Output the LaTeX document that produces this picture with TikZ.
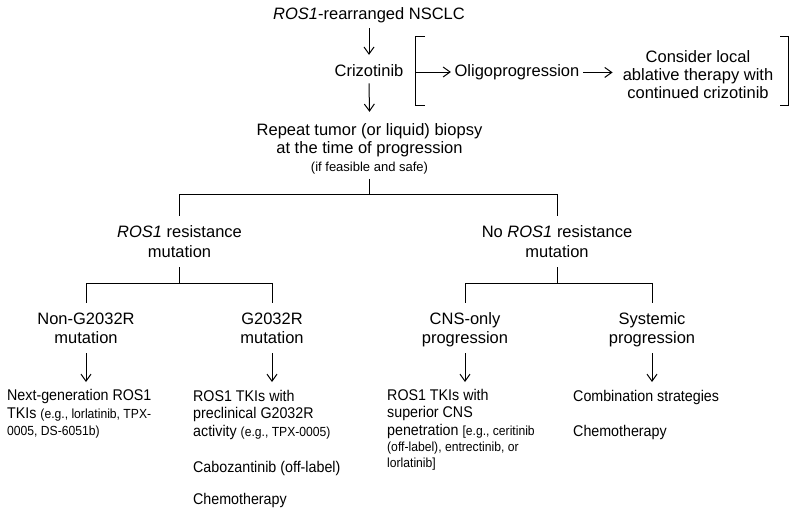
\documentclass[tikz,border=0pt]{standalone}
\usepackage{fontspec}
\setmainfont{Liberation Sans}
\newfontfamily\narrowfont[FakeStretch=0.92]{Liberation Sans}
\usetikzlibrary{arrows.meta}
\newcommand\smtxt[1]{{\fontsize{13}{15}\selectfont #1}}
\newcommand\smb[1]{{\fontsize{13.2}{14}\selectfont #1}}
\begin{document}
\begin{tikzpicture}[x=1pt,y=-1pt,
  main/.style={font=\fontsize{16.5}{18.5}\selectfont, inner sep=0pt, anchor=base, align=center},
  low/.style={font=\narrowfont\fontsize{15.5}{17.5}\selectfont, inner sep=0pt, anchor=base west, align=left},
  ln/.style={line width=1pt, black},
  arr/.style={line width=1pt, black, -{Straight Barb[length=7pt,width=10pt]}}
]
\useasboundingbox (0,0) rectangle (800,514);

% top (anchor base = baseline of the last line)
\node[main] (A) at (369,19) {\textit{ROS1}-rearranged NSCLC};
\node[main] (B) at (369,76) {Crizotinib};
\node[main] (C) at (369.5,171) {Repeat tumor (or liquid) biopsy\\at the time of progression\\[-1pt]\smtxt{(if feasible and safe)}};
\node[main] (O) at (517,76.7) {Oligoprogression};
\node[main] (K) at (698,98.3) {Consider local\\[-0.7pt]ablative therapy with\\[-0.7pt]continued crizotinib};

\draw[arr] ([yshift=-5.5pt]A.south) -- ([yshift=9pt]B.north);
\draw[arr] ([yshift=-7pt]B.south) -- ([yshift=11pt]C.north);

% bracket
\coordinate (bt) at (415,36);
\coordinate (bb) at (415,105);
\coordinate (bm) at (416,72);
\coordinate (rt) at (788,36);
\coordinate (rb) at (788,105);
\draw[ln] ([xshift=10pt]bt) -- (bt) -- (bb) -- ([xshift=10pt]bb);
\draw[ln] ([xshift=-8pt]rt) -- (rt) -- (rb) -- ([xshift=-8pt]rb);
\draw[arr] (bm) -- ([xshift=-3.5pt]bm -| O.west);
\draw[arr] ([xshift=3.5pt]O.east) -- ([xshift=-10pt]O.east -| K.west);

% level 2
\node[main] (R1) at (179.5,257) {\textit{ROS1} resistance\\[1.5pt]mutation};
\node[main] (R2) at (557,257) {No \textit{ROS1} resistance\\[1.5pt]mutation};
\coordinate (j1) at (369.5,194);
\draw[ln] ([yshift=-5pt]C.south) -- (j1);
\draw[ln] (j1) -| ([yshift=9pt]R1.north);
\draw[ln] (j1) -| ([yshift=9pt]R2.north);

% level 3
\node[main] (L1) at (86,343) {Non-G2032R\\[0.5pt]mutation};
\node[main] (L2) at (272,343) {G2032R\\[0.5pt]mutation};
\node[main] (L3) at (465,343) {CNS-only\\[0.5pt]progression};
\node[main] (L4) at (652,343) {Systemic\\[0.5pt]progression};
\coordinate (j2) at (179.5,283);
\coordinate (j3) at (557,283);
\draw[ln] ([yshift=-10pt]R1.south) -- (j2);
\draw[ln] ([yshift=-10pt]R2.south) -- (j3);
\draw[ln] (j2) -| ([yshift=9pt]L1.north);
\draw[ln] (j2) -| ([yshift=9pt]L2.north);
\draw[ln] (j3) -| ([yshift=9pt]L3.north);
\draw[ln] (j3) -| ([yshift=9pt]L4.north);

% bottom
\node[low] (D1) at (7,435.7) {Next-generation ROS1\\TKIs \smb{(e.g., lorlatinib, TPX-}\\\smb{0005, DS-6051b)}};
\node[low] (D2) at (193,504) {ROS1 TKIs with\\preclinical G2032R\\activity \smb{(e.g., TPX-0005)}\\[19pt]Cabozantinib (off-label)\\[14pt]Chemotherapy};
\node[low] (D3) at (387,467) {ROS1 TKIs with\\[-0.5pt]superior CNS\\penetration \smb{[e.g., ceritinib}\\[-1.5pt]\smb{(off-label), entrectinib, or}\\[-1.5pt]\smb{lorlatinib]}};
\node[low] (D4) at (573,436) {Combination strategies\\[17.5pt]Chemotherapy};

\coordinate (as) at (0,353);
\coordinate (ae) at (0,382);
\foreach \n in {L1,L2,L3,L4}{
  \draw[arr] (\n.south |- as) -- (\n.south |- ae);
}
\end{tikzpicture}
\end{document}
